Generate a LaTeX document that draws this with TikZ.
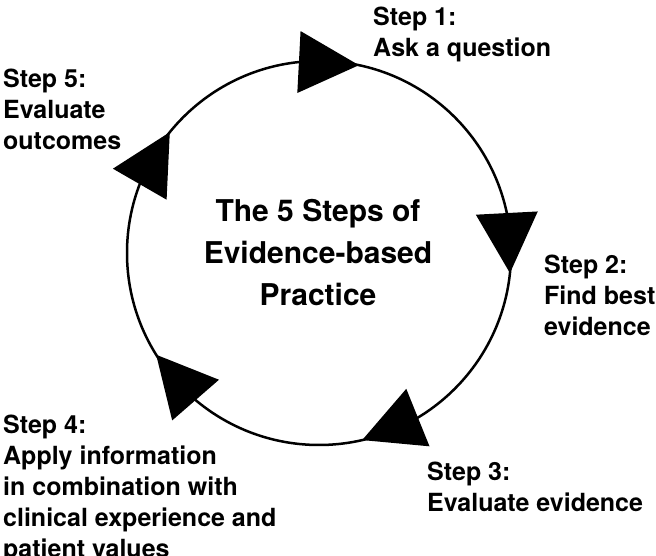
\documentclass[tikz,border=0pt]{standalone}
\usepackage{fontspec}
\setmainfont{TeX Gyre Heros}
\usetikzlibrary{calc}

\tikzset{
	steptext/.style={anchor=north west, align=left, inner sep=0pt, font=\bfseries\fontsize{25}{31}\selectfont},
	titletext/.style={anchor=north, align=center, inner sep=0pt, font=\bfseries\fontsize{30}{42}\selectfont},
	cycleline/.style={line width=2.5pt},
}

\begin{document}
\begin{tikzpicture}[x=1pt, y=1pt]
	\clip (0,0) rectangle (656,556);
	\coordinate (hub) at (319,303);
	\draw[cycleline] (hub) circle (192);
	\foreach \a in {96,12,-59,-130,159}{
		\coordinate (base) at ($(hub)+(\a:192)$);
		\coordinate (tip) at ($(hub)+(\a-18:192)$);
		\fill ($(base)!31pt!90:(tip)$) -- (tip) -- ($(base)!31pt!-90:(tip)$) -- cycle;
	}
	\node[titletext] (title) at (318,357) {The 5 Steps of\\Evidence-based\\Practice};
	\node[steptext] (step1) at (373,549) {Step 1:\\Ask a question};
	\node[steptext] (step2) at (544,301) {Step 2:\\Find best\\evidence};
	\node[steptext] (step3) at (427,94) {Step 3:\\Evaluate evidence};
	\node[steptext] (step4) at (3,141) {Step 4:\\Apply information\\in combination with\\clinical experience and\\patient values};
	\node[steptext] (step5) at (3,487) {Step 5:\\Evaluate\\outcomes};
\end{tikzpicture}
\end{document}
